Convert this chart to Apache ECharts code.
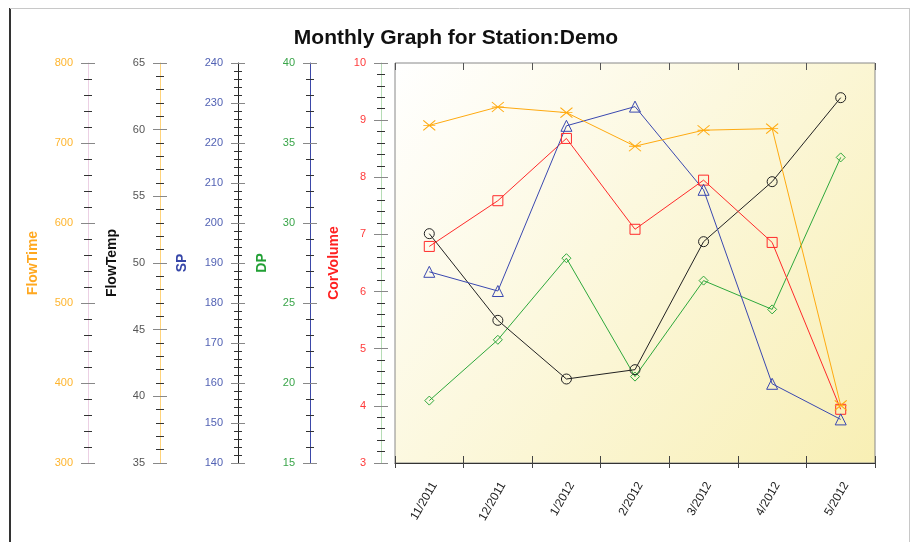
<!DOCTYPE html>
<html lang="en">
<head>
    <meta charset="UTF-8">
    <title>Monthly Graph for Station:Demo</title>
    <style>
        html, body { margin: 0; padding: 0; width: 100%; height: 100%; background: #fff; }
        #chartmain { width: 912px; height: 542px; }
    </style>
</head>
<body>
<div id="chartmain"></div>
<script src="https://cdn.jsdelivr.net/npm/echarts@6/dist/echarts.min.js"></script>
<script type="text/javascript">
    // data
    var months = ['11/2011', '12/2011', '1/2012', '2/2012', '3/2012', '4/2012', '5/2012'];
    var flowTime = [722, 745, 738, 696, 716, 718, 372];
    var flowTemp = [52.2, 45.7, 41.3, 42.0, 51.6, 56.1, 62.4];
    var sp = [187.8, 183.0, 224.3, 229.1, 208.3, 159.8, 150.9];
    var dp = [18.9, 22.7, 27.8, 20.4, 26.4, 24.6, 34.1];
    var corVolume = [6.79, 7.59, 8.68, 7.09, 7.95, 6.86, 3.94];

    // axis ranges
    var axisNames = ['FlowTime', 'FlowTemp', 'SP', 'DP', 'CorVolume'];
    var axisMin = [300, 35, 140, 15, 3];
    var axisMax = [800, 65, 240, 40, 10];
    var axisStep = [100, 5, 10, 5, 1];

    var font = 'Liberation Sans, Arial, sans-serif';

    // one left axis with ticks outside, and a twin with ticks inside so the ticks cross the line
    function makeAxis(i, offset, lineColor, labelColor, nameColor, nameGap) {
        var base = {
            type: 'value',
            position: 'left',
            offset: offset,
            min: axisMin[i],
            max: axisMax[i],
            interval: axisStep[i],
            splitLine: { show: false }
        };
        var main = Object.assign({}, base, {
            name: axisNames[i],
            nameLocation: 'middle',
            nameGap: nameGap,
            nameTextStyle: { color: nameColor, fontSize: 14, fontWeight: 'bold', fontFamily: font },
            axisLine: { show: true, lineStyle: { color: lineColor, width: 1 } },
            axisTick: { show: true, length: 7, lineStyle: { color: '#888' } },
            minorTick: { show: true, splitNumber: 5, length: 4, lineStyle: { color: '#333' } },
            axisLabel: { color: labelColor, fontSize: 11, fontFamily: font, margin: 15 }
        });
        var twin = Object.assign({}, base, {
            axisLine: { show: false },
            axisTick: { show: true, inside: true, length: 7, lineStyle: { color: '#888' } },
            minorTick: { show: true, splitNumber: 5, length: 4, lineStyle: { color: '#333' } },
            axisLabel: { show: false }
        });
        return [main, twin];
    }

    var yAxes = [].concat(
        makeAxis(0, 307, '#ecd0e4', '#ffb52e', '#ffa820', 48),
        makeAxis(1, 235, '#ffd37a', '#555555', '#111111', 41),
        makeAxis(2, 157, '#222222', '#5262b4', '#3646a8', 49),
        makeAxis(3, 85, '#3b48a8', '#3aa54a', '#22a035', 41),
        makeAxis(4, 14, '#b5dcb5', '#ff3a3a', '#ff2020', 40)
    );

    function lineSeries(name, data, yIndex, color, symbol, size) {
        return {
            name: name,
            type: 'line',
            data: data,
            yAxisIndex: yIndex,
            symbol: symbol,
            symbolSize: size,
            showAllSymbol: true,
            lineStyle: { color: color, width: 1 },
            itemStyle: { color: 'rgba(0,0,0,0)', borderColor: color, borderWidth: 1 },
            emphasis: { disabled: true },
            z: 3
        };
    }

    var option = {
        animation: false,
        backgroundColor: '#ffffff',
        title: {
            text: 'Monthly Graph for Station:Demo',
            left: 'center',
            top: 23,
            textStyle: { fontSize: 21, fontWeight: 'bold', color: '#111', fontFamily: font }
        },
        grid: {
            left: 395,
            right: 37,
            top: 63,
            bottom: 79,
            show: true,
            borderColor: '#888',
            borderWidth: 1,
            backgroundColor: new echarts.graphic.LinearGradient(0, 0, 1, 1, [
                { offset: 0, color: '#ffffff' },
                { offset: 1, color: '#f8efb4' }
            ])
        },
        xAxis: [{
            type: 'category',
            data: months,
            position: 'bottom',
            boundaryGap: true,
            axisLine: { lineStyle: { color: '#333' } },
            axisTick: { show: true, length: 5, lineStyle: { color: '#444' } },
            axisLabel: { rotate: 60, color: '#222', fontSize: 12, fontFamily: font, margin: 17, verticalAlign: 'top' }
        }, {
            type: 'category',
            data: months,
            position: 'bottom',
            boundaryGap: true,
            axisLine: { show: false },
            axisTick: { show: true, inside: true, length: 7, lineStyle: { color: '#444' } },
            axisLabel: { show: false }
        }, {
            type: 'category',
            data: months,
            position: 'top',
            boundaryGap: true,
            axisLine: { show: false },
            axisTick: { show: true, inside: true, length: 7, lineStyle: { color: '#555' } },
            axisLabel: { show: false }
        }],
        yAxis: yAxes,
        series: [
            lineSeries('DP', dp, 6, '#2ea83c', 'diamond', 9),
            lineSeries('FlowTemp', flowTemp, 2, '#222222', 'circle', 10),
            lineSeries('CorVolume', corVolume, 8, '#ff2a2a', 'rect', 10),
            lineSeries('SP', sp, 4, '#3a48b0', 'triangle', 11),
            lineSeries('FlowTime', flowTime, 0, '#ffaa10', 'path://M0,0L10,10M10,0L0,10M0,5L10,5', [12, 10])
        ],
        graphic: [
            { type: 'line', shape: { x1: 10, y1: 8, x2: 10, y2: 542 }, style: { stroke: '#333', lineWidth: 2 } },
            { type: 'line', shape: { x1: 10, y1: 8.5, x2: 909, y2: 8.5 }, style: { stroke: '#c8c8c8', lineWidth: 1 } },
            { type: 'line', shape: { x1: 909.5, y1: 8, x2: 909.5, y2: 542 }, style: { stroke: '#c8c8c8', lineWidth: 1 } }
        ]
    };

    var myChart = echarts.init(document.getElementById('chartmain'));
    myChart.setOption(option);
</script>
</body>
</html>
